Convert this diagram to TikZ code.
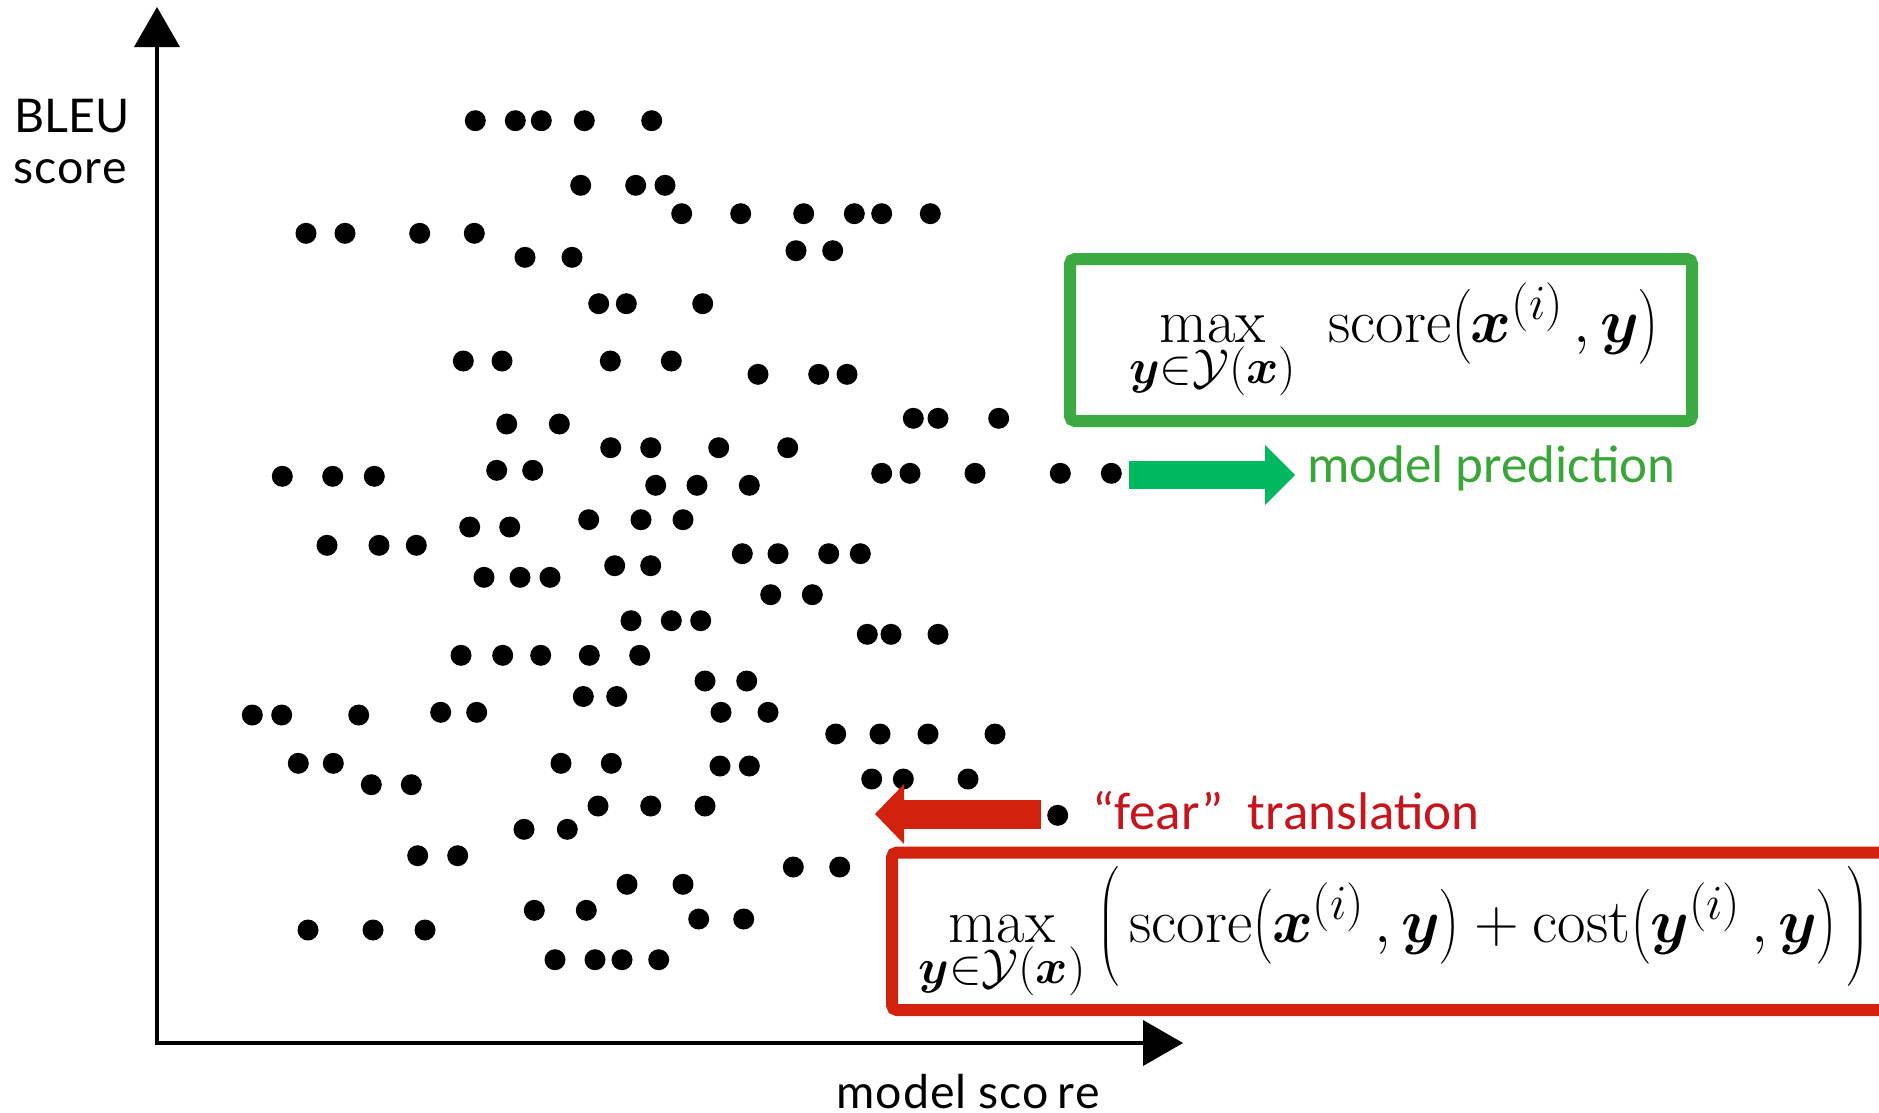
\RequirePackage{fix-cm}
\documentclass[tikz,border=0pt]{standalone}
\usepackage{amsmath}
\usepackage{bm}
\usepackage{fontspec}
\DeclareMathSizes{62}{62}{49}{37}
\newfontfamily\gillfont{Lato}
\newfontfamily\calibfont{Carlito}
\usetikzlibrary{arrows.meta}
\definecolor{boxgreen}{RGB}{59,170,67}
\definecolor{arrowgreen}{RGB}{0,184,96}
\definecolor{textgreen}{RGB}{58,166,58}
\definecolor{boxred}{RGB}{210,34,14}
\definecolor{textred}{RGB}{200,20,28}
\begin{document}
\begin{tikzpicture}[x=1pt,y=-1pt,
  pdot/.style={circle,fill=black,inner sep=0pt,minimum size=21pt},
  axisline/.style={line width=4.5pt,
    {Triangle[length=40pt,width=46pt,line width=0pt]}-{Triangle[length=40pt,width=46pt,line width=0pt]}},
  fatg/.style={draw=arrowgreen,line width=28.6pt,-{Triangle[length=30pt,width=60pt,line width=0pt]}},
  fatr/.style={draw=boxred,line width=29pt,-{Triangle[length=29pt,width=60pt,line width=0pt]}},
  boxg/.style={draw=boxgreen,line width=12pt,rounded corners=5pt},
  boxr/.style={draw=boxred,line width=12pt,rounded corners=5pt},
  mathlbl/.style={inner sep=0pt,font=\fontsize{62}{74}\selectfont},
  axislbl/.style={inner sep=0pt,font=\gillfont\fontsize{46.5}{56}\selectfont},
  sidelbl/.style={inner sep=0pt,font=\calibfont\fontsize{53}{63}\selectfont}
]
\useasboundingbox (0,0) rectangle (1879,1112);
\fill[white] (0,0) rectangle (1879,1112);

% axes
\coordinate (origin) at (157,1043);
\coordinate (ytip) at (157,7);
\coordinate (xtip) at (1183,1043);
\draw[axisline] (ytip) -- (origin) -- (xtip);

\node[axislbl,anchor=base west] (bleu) at (14,132) {BLEU};
\node[axislbl,anchor=base west] (bleus) at (13,183) {s\kern1pt c\kern1pt o\kern1pt r\kern1pt e};
\node[axislbl,anchor=base] (mscore) at (968,1108) {m\kern1pt o\kern1pt d\kern1pt e\kern1pt l s\kern1pt c\kern1pt o\kern8pt r\kern1pt e};

% dots
\foreach \px/\py [count=\i] in {
 475.3/120.7, 515.3/120.7, 541.3/120.7, 584.3/120.7, 651.7/120.7,
 580.7/185.3, 635.7/185.3, 665/185.3,
 681.7/213.7, 740.7/213.7, 803.7/213.7, 854.3/213.7, 881.7/213.7, 930.3/213.7,
 306/233.3, 345/233.3, 419.7/233.3, 474.3/233.3,
 796/250.7, 832.7/250.7,
 525/257.3, 572/257.3,
 598.7/303.7, 626.3/303.7, 702.7/303.7,
 463.3/361, 502/361, 610.3/361, 671.3/361,
 758/374.3, 818.7/374.3, 847/374.3,
 913.3/418.3, 938/418.3, 998.7/418.3,
 506.7/424, 559.3/424,
 610.7/447.7, 650.7/447.7, 718.7/447.7, 787.7/447.7,
 282.3/476.3, 332.7/476.3, 374.3/476.3,
 496.7/470.3, 532.7/470.3,
 881.7/473.3, 910/473.3, 975/473.3, 1060.3/473.3,
 655.7/485.3, 697/485.3, 749.3/485.3,
 588.7/519.7, 641/519.7, 683/519.7,
 469.7/527, 509.7/527,
 327/545.3, 379/545.3, 416.3/545.3,
 742.3/553.7, 778/553.7, 828.7/553.7, 860.3/553.7,
 614.7/565.7, 650.7/565.7,
 484/577.3, 520/577.3, 550/577.3,
 770.7/594.7, 812.3/594.7,
 631/620.7, 671.3/620.7, 700.7/620.7,
 867.3/634.3, 891/634.3, 938/634.3,
 461/655.3, 502.7/655.3, 540.7/655.3, 589.3/655.3, 639.7/655.3,
 705/681, 746.7/681,
 583.3/696.5, 616.7/696.5,
 252.3/715, 281.7/715, 358.7/715,
 440.7/712.3, 476.7/712.3, 721/712.3, 768/712.3,
 835.7/734, 880/734, 928/734, 995/734,
 298.3/763.3, 333.3/763.3, 561/763.3, 611.3/763.3,
 720/766, 749.3/766,
 871.7/779, 903.3/779, 968/779,
 371.3/784.7, 411.3/784.7,
 598/806, 650.7/806, 705/806,
 524/829.3, 567.3/829.3,
 417.7/855.7, 457.7/855.7,
 793.3/867, 839.7/867,
 627/884.3, 683/884.3,
 534.3/910.3, 586.3/910.3,
 698.7/919, 743.7/919,
 308/930, 373/930, 425/930,
 555/959.7, 595/959.7, 622/959.7, 658.7/959.7}
 \node[pdot] (d\i) at (\px,\py) {};
\node[pdot] (pred) at (1111.3,473.3) {};
\node[pdot] (fear) at (1057.7,815.3) {};

% green box and formula
\draw[boxg] (1070,259) rectangle (1692,421);
\node[mathlbl,anchor=base] (gmax) at (1212.7,342)
  {$\displaystyle\max_{\bm{y}\in\mathcal{Y}(\bm{x})}$};
\node[mathlbl,anchor=base west] (gscore) at (1328,342)
  {$\mathrm{score}\bigl(\bm{x}^{(i)}\,,\bm{y}\bigr)$};

% model prediction arrow
\coordinate (gs) at (1129,475);
\coordinate (ge) at (1295,475);
\draw[fatg] (gs) -- (ge);
\node[sidelbl,text=textgreen,anchor=base west] (predlbl) at (1307,482) {model prediction};

% fear translation arrow
\coordinate (rs) at (1041,814);
\coordinate (re) at (875,814);
\draw[fatr] (rs) -- (re);
\node[sidelbl,text=textred,anchor=base west] (fearlbl) at (1092,829) {“fear”\ \ translation};

% red box and formula
\begin{scope}
\clip (0,0) rectangle (1879,1112);
\draw[boxr] (892,852.5) rectangle (1910,1010);
\end{scope}
\node[mathlbl,anchor=base] (rmax) at (1001.9,942)
  {$\displaystyle\max_{\bm{y}\in\mathcal{Y}(\bm{x})}$};
\node[mathlbl,anchor=base west] (rscore) at (1097,942)
  {$\Big(\,\mathrm{score}\bigl(\bm{x}^{(i)}\,,\bm{y}\bigr)+\mathrm{cost}\bigl(\bm{y}^{(i)}\,,\bm{y}\bigr)\,\Big)$};
\end{tikzpicture}
\end{document}
